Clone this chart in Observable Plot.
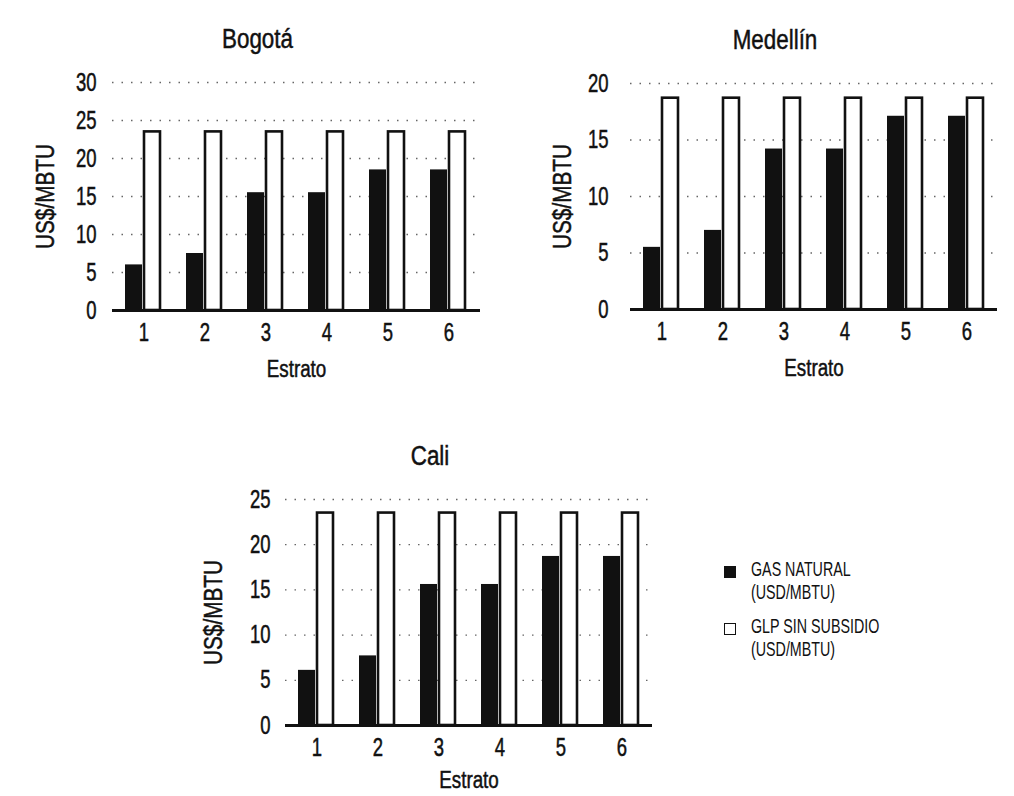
<!DOCTYPE html>
<html>
<head>
<meta charset="utf-8">
<script src="https://cdn.jsdelivr.net/npm/d3@7"></script>
<script src="https://cdn.jsdelivr.net/npm/@observablehq/plot@0.6"></script>
<style>
  html, body { margin: 0; padding: 0; background: #fff; }
  #root { position: relative; width: 1014px; height: 796px; background: #fff; overflow: hidden;
          font-family: "Liberation Sans", Arial, sans-serif; color: #111; }
  #root svg text { stroke: #111; stroke-width: 0.5px; }
  .panel { position: absolute; }
  #legend { position: absolute; left: 724px; top: 557px; font-size: 21px; line-height: 23px; }
  .item { display: flex; align-items: flex-start; margin-bottom: 11px; white-space: nowrap; }
  .sw { width: 12px; height: 12px; margin-top: 9px; margin-right: 15px; box-sizing: border-box; flex: none; }
  .lt { display: inline-block; transform: scaleX(0.68); transform-origin: left center; }
</style>
</head>
<body>
<div id="root"><div id="legend"></div></div>
<script>
// ---- data ----
const estratos = [1, 2, 3, 4, 5, 6];
const seriesNames = ["GAS NATURAL", "GLP SIN SUBSIDIO"];
const seriesUnit = "(USD/MBTU)";

const bogotaGas   = [6.0, 7.5, 15.5, 15.5, 18.5, 18.5];
const bogotaGlp   = [23.5, 23.5, 23.5, 23.5, 23.5, 23.5];
const medellinGas = [5.5, 7.0, 14.2, 14.2, 17.1, 17.1];
const medellinGlp = [18.7, 18.7, 18.7, 18.7, 18.7, 18.7];
const caliGas     = [6.1, 7.7, 15.6, 15.6, 18.7, 18.7];
const caliGlp     = [23.5, 23.5, 23.5, 23.5, 23.5, 23.5];

const bogotaTicks   = [0, 5, 10, 15, 20, 25, 30];
const medellinTicks = [0, 5, 10, 15, 20];
const caliTicks     = [0, 5, 10, 15, 20, 25];

const titles = ["Bogotá", "Medellín", "Cali"];
const xLabel = "Estrato";
const yLabel = "US$/MBTU";

const FONT = "'Liberation Sans', Arial, sans-serif";

function panel(o) {
  const gasData = estratos.map((e, i) => ({estrato: e, value: o.gas[i]}));
  const glpData = estratos.map((e, i) => ({estrato: e, value: o.glp[i]}));
  return Plot.plot({
    width: o.width, height: o.height,
    marginLeft: o.ml, marginRight: o.mr, marginTop: o.mt, marginBottom: o.mb,
    style: {fontFamily: FONT, fontSize: "25px", color: "#111", background: "transparent", overflow: "visible"},
    x: {type: "band", domain: estratos, padding: 0, label: null, tickSize: 0, tickPadding: 13},
    y: {domain: [0, o.ticks[o.ticks.length - 1]], ticks: o.ticks, label: null, tickSize: 0, tickPadding: o.tp, tickFormat: d => d},
    marks: [
      Plot.ruleY(o.ticks.filter(t => t > 0), {stroke: "#666", strokeWidth: 1.3, strokeDasharray: "1.5,8"}),
      Plot.barY(gasData, {x: "estrato", y: "value", fill: "#111", insetLeft: 12, insetRight: 32}),
      Plot.barY(glpData, {x: "estrato", y: "value", fill: "#fff", stroke: "#111", strokeWidth: 2.6, insetLeft: 31, insetRight: 14}),
      Plot.ruleY([0], {stroke: "#111", strokeWidth: 3}),
      Plot.text([o.title], {text: d => d, frameAnchor: "top", lineAnchor: "middle", textAnchor: "middle", dy: -43, dx: -39, fontSize: 28}),
      Plot.text([xLabel], {text: d => d, frameAnchor: "bottom", lineAnchor: "middle", textAnchor: "middle", dy: o.xdy, fontSize: 23.5}),
      Plot.text([yLabel], {text: d => d, frameAnchor: "left", lineAnchor: "middle", textAnchor: "middle", dx: o.ydx, rotate: -90, fontSize: 26})
    ]
  });
}

// narrow every text horizontally (condensed face of the original), keeping anchors
function condense(svg) {
  svg.querySelectorAll("text").forEach(t => {
    const s = /^[\d\s]+$/.test(t.textContent) ? 0.74 : 0.8;
    const xa = t.getAttribute("x");
    let x = 0;
    if (xa != null && /^-?[\d.]+$/.test(xa.trim())) { x = +xa; t.removeAttribute("x"); }
    const tr = t.getAttribute("transform") || "";
    t.setAttribute("transform", `${tr} translate(${x},0) scale(${s},1)`);
  });
  return svg;
}

const root = document.getElementById("root");
function place(svg, left, top) {
  const wrap = document.createElement("div");
  wrap.className = "panel";
  wrap.style.left = left + "px";
  wrap.style.top = top + "px";
  wrap.appendChild(condense(svg));
  root.appendChild(wrap);
}

place(panel({title: titles[0], gas: bogotaGas, glp: bogotaGlp, ticks: bogotaTicks,
  width: 500, height: 400, ml: 112, mr: 20, mt: 82, mb: 90, tp: 16, ydx: -67, xdy: 59}), 0, 0);
place(panel({title: titles[1], gas: medellinGas, glp: medellinGlp, ticks: medellinTicks,
  width: 514, height: 400, ml: 130, mr: 17, mt: 83, mb: 91, tp: 22, ydx: -68, xdy: 59}), 500, 0);
place(panel({title: titles[2], gas: caliGas, glp: caliGlp, ticks: caliTicks,
  width: 490, height: 396, ml: 105, mr: 18, mt: 99, mb: 71, tp: 15, ydx: -72, xdy: 55}), 180, 400);

// legend
const legend = document.getElementById("legend");
const swStyles = [
  {background: "#111", border: "none"},
  {background: "#fff", border: "1.8px solid #111"}
];
seriesNames.forEach((name, i) => {
  const item = document.createElement("div");
  item.className = "item";
  const sw = document.createElement("div");
  sw.className = "sw";
  Object.assign(sw.style, swStyles[i]);
  const txt = document.createElement("div");
  txt.innerHTML = `<span class="lt">${name}</span><br><span class="lt">${seriesUnit}</span>`;
  item.appendChild(sw);
  item.appendChild(txt);
  legend.appendChild(item);
});
</script>
</body>
</html>
